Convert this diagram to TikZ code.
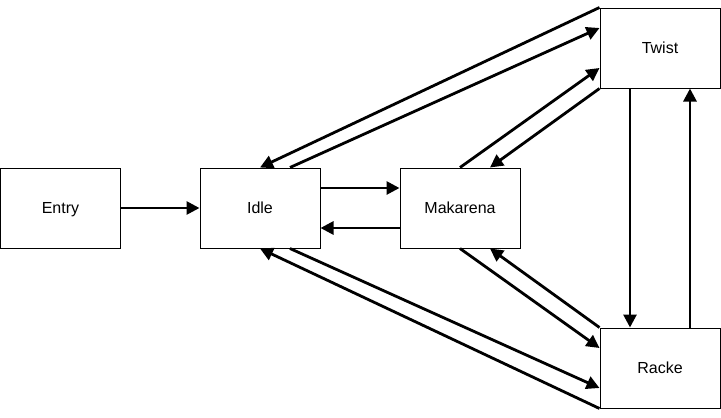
\documentclass[tikz,border=0pt]{standalone}
\usepackage{fontspec}
\setmainfont{Liberation Sans}
\usetikzlibrary{arrows.meta}
\begin{document}
\begin{tikzpicture}[x=1pt, y=-1pt,
    state/.style={rectangle, draw, line width=1pt, minimum width=120pt, minimum height=80pt, inner sep=0pt, text height=11.5pt, text depth=0pt, font=\fontsize{16}{19}\selectfont},
    trans/.style={line width=2.8pt, -{Triangle[length=13pt,width=13pt]}}]
    \useasboundingbox (0,0) rectangle (721,418);

    % Left column
    \node[state] (entry) at (60.5,208) {Entry};
    \node[state] (idle) at (260,208) {Idle};
    \node[state] (mak) at (460,208) {Makarena};

    % Right column
    \node[state] (twist) at (660,48) {Twist};
    \node[state] (racke) at (660,368) {Racke};

    % Edges
    \draw[trans] (entry) -- (idle);
    \draw[trans] ([yshift=20pt]idle.east) -- ([yshift=20pt]mak.west);
    \draw[trans] ([yshift=-20pt]mak.west) -- ([yshift=-20pt]idle.east);

    \draw[trans] (twist.north west) -- (idle.north);
    \draw[trans] ([xshift=30pt]idle.north) -- ([yshift=20pt]twist.west);
    \draw[trans] (mak.north) -- ([yshift=-20pt]twist.west);
    \draw[trans] (twist.south west) -- ([xshift=30pt]mak.north);

    \draw[trans] (racke.south west) -- (idle.south);
    \draw[trans] ([xshift=30pt]idle.south) -- ([yshift=-20pt]racke.west);
    \draw[trans] (mak.south) -- ([yshift=20pt]racke.west);
    \draw[trans] (racke.north west) -- ([xshift=30pt]mak.south);

    \draw[trans] ([xshift=-30pt]twist.south) -- ([xshift=-30pt]racke.north);
    \draw[trans] ([xshift=30pt]racke.north) -- ([xshift=30pt]twist.south);
\end{tikzpicture}
\end{document}
